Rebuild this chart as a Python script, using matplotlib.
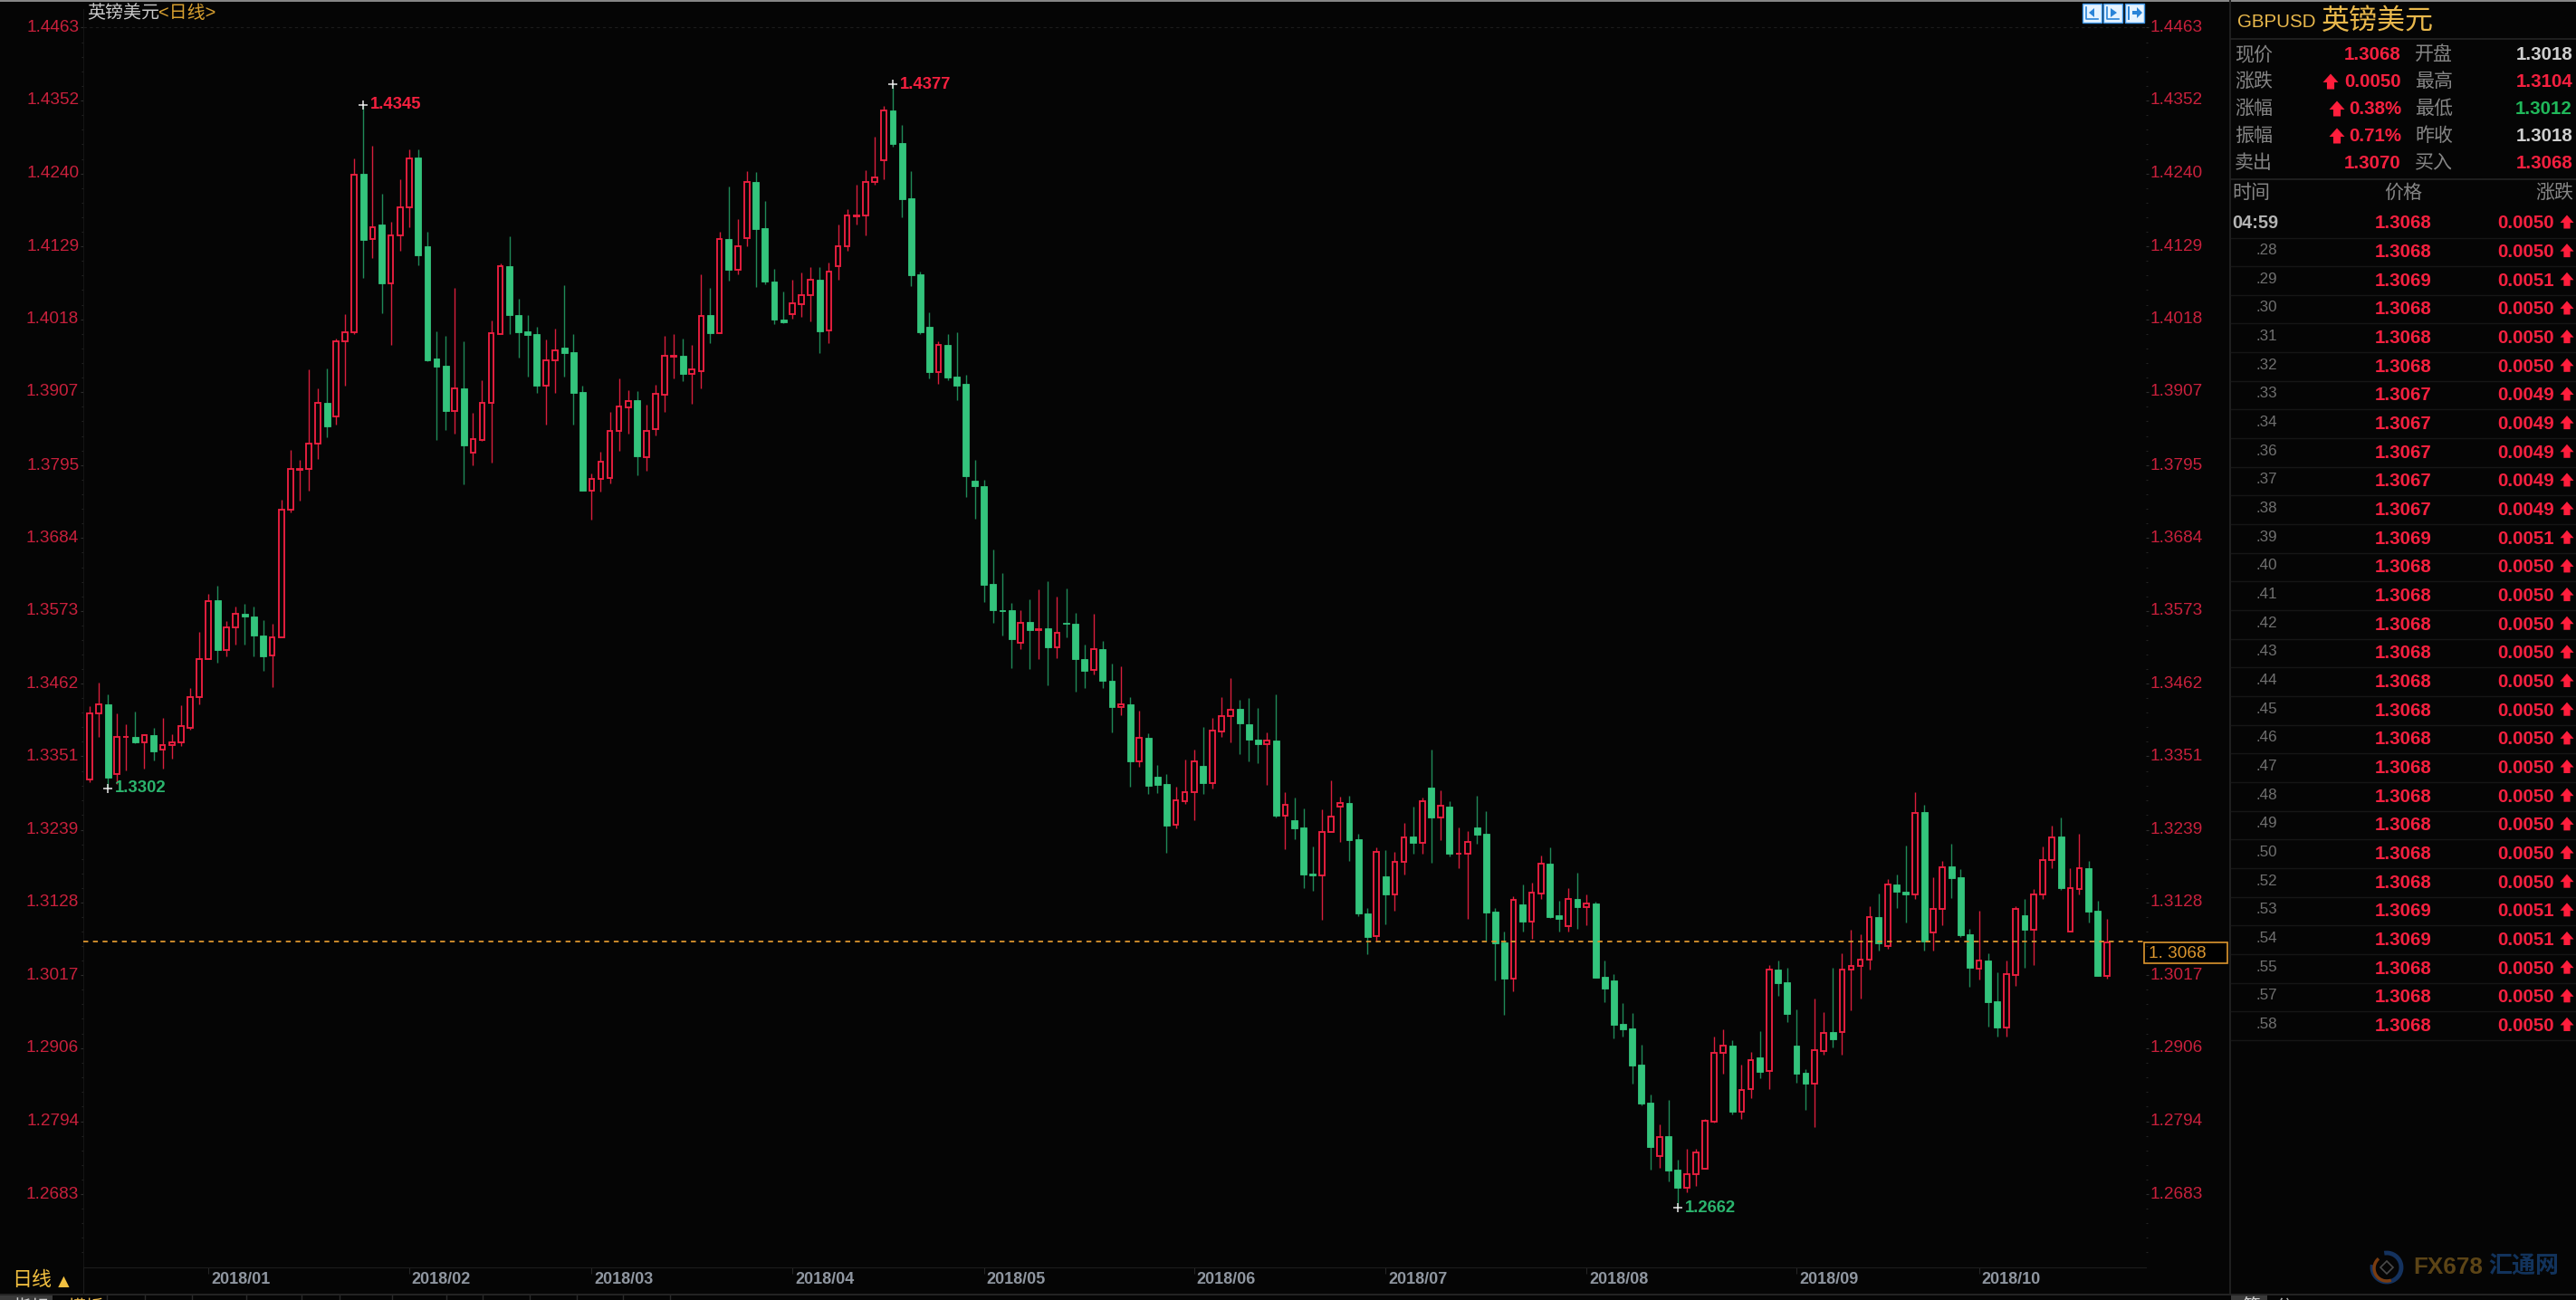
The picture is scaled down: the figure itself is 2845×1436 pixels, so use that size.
import numpy as np
import matplotlib
matplotlib.use('Agg')
import matplotlib.pyplot as plt
from matplotlib.patches import Rectangle, Polygon, Arc
from matplotlib.ticker import FixedLocator

plt.rcParams['font.family'] = ['Liberation Sans', 'Noto Sans CJK SC', 'DejaVu Sans']

# daily GBPUSD candles, in 1/10000 of a price unit
opens = [
    13316, 13417, 13431, 13324, 13380, 13381, 13373, 13383, 13362, 13368,
    13372, 13394, 13441, 13500, 13589, 13513, 13548, 13569, 13565, 13536,
    13505, 13533, 13728, 13788, 13789, 13828, 13891, 13870, 13984, 13998,
    14240, 14140, 14163, 14073, 14146, 14189, 14265, 14130, 13958, 13947,
    13878, 13912, 13814, 13834, 13891, 13996, 14099, 14024, 13999, 13995,
    13917, 13955, 13974, 13968, 13907, 13757, 13775, 13776, 13847, 13884,
    13894, 13808, 13850, 13903, 13961, 13962, 13935, 13939, 14025, 13997,
    14141, 14094, 14142, 14228, 14157, 14076, 14018, 14026, 14041, 14055,
    14078, 14001, 14099, 14129, 14175, 14177, 14227, 14260, 14337, 14287,
    14203, 14087, 14006, 13938, 13979, 13931, 13919, 13772, 13763, 13614,
    13574, 13574, 13524, 13556, 13544, 13546, 13518, 13555, 13554, 13500,
    13483, 13514, 13466, 13426, 13431, 13343, 13379, 13320, 13309, 13246,
    13283, 13296, 13336, 13310, 13389, 13412, 13423, 13400, 13377, 13370,
    13375, 13261, 13253, 13243, 13172, 13170, 13235, 13275, 13280, 13224,
    13112, 13077, 13168, 13141, 13190, 13229, 13219, 13303, 13258, 13274,
    13202, 13203, 13243, 13233, 13114, 13067, 13012, 13125, 13099, 13142,
    13187, 13108, 13092, 13133, 13121, 13127, 13015, 13009, 12943, 12936,
    12881, 12823, 12741, 12771, 12721, 12693, 12714, 12722, 12794, 12898,
    12910, 12809, 12844, 12891, 12871, 13026, 13007, 12909, 12868, 12852,
    12902, 12930, 12931, 13025, 13031, 13041, 13106, 13062, 13156, 13145,
    13141, 13266, 13082, 13118, 13183, 13167, 13080, 13027, 13040, 12978,
    12937, 13018, 13109, 13087, 13141, 13193, 13229, 13084, 13149, 13181,
    13115, 13016,
]
closes = [
    13417, 13431, 13318, 13380, 13381, 13373, 13383, 13359, 13368, 13372,
    13397, 13441, 13500, 13588, 13513, 13548, 13569, 13564, 13535, 13504,
    13533, 13727, 13789, 13789, 13828, 13891, 13854, 13984, 13998, 14239,
    14139, 14158, 14073, 14146, 14189, 14264, 14116, 13956, 13946, 13878,
    13912, 13826, 13835, 13891, 13997, 14099, 14025, 13998, 13994, 13917,
    13955, 13970, 13967, 13906, 13757, 13775, 13800, 13848, 13885, 13893,
    13809, 13848, 13904, 13962, 13962, 13935, 13941, 14023, 13997, 14140,
    14093, 14129, 14228, 14156, 14075, 14017, 14013, 14043, 14055, 14078,
    14000, 14091, 14129, 14176, 14176, 14228, 14235, 14337, 14286, 14201,
    14085, 13998, 13938, 13979, 13929, 13917, 13779, 13763, 13613, 13574,
    13573, 13530, 13555, 13544, 13545, 13517, 13539, 13553, 13499, 13482,
    13514, 13467, 13426, 13431, 13343, 13379, 13306, 13308, 13245, 13284,
    13296, 13344, 13310, 13390, 13413, 13422, 13401, 13376, 13370, 13375,
    13260, 13277, 13241, 13171, 13169, 13236, 13259, 13280, 13223, 13111,
    13076, 13205, 13140, 13190, 13228, 13219, 13282, 13258, 13276, 13202,
    13203, 13220, 13231, 13113, 13066, 13012, 13132, 13099, 13143, 13187,
    13106, 13103, 13133, 13121, 13127, 13013, 12997, 12941, 12935, 12879,
    12821, 12755, 12770, 12719, 12693, 12714, 12747, 12795, 12899, 12909,
    12809, 12842, 12888, 12870, 13025, 13005, 12958, 12867, 12852, 12903,
    12929, 12919, 13025, 13031, 13041, 13106, 13066, 13156, 13144, 13141,
    13264, 13069, 13118, 13182, 13165, 13078, 13028, 13040, 12976, 12937,
    13019, 13118, 13086, 13141, 13193, 13228, 13150, 13150, 13181, 13114,
    13016, 13067,
]
highs = [
    13427, 13464, 13446, 13416, 13400, 13419, 13385, 13394, 13409, 13385,
    13429, 13455, 13541, 13599, 13611, 13557, 13580, 13584, 13580, 13559,
    13553, 13742, 13819, 13804, 13941, 13912, 13943, 13988, 14026, 14263,
    14345, 14283, 14209, 14167, 14231, 14277, 14277, 14151, 14000, 13993,
    14066, 13984, 13875, 13925, 14016, 14103, 14145, 14049, 14024, 14007,
    13987, 14004, 14070, 13995, 13916, 13783, 13816, 13876, 13928, 13910,
    13909, 13888, 13918, 13993, 13996, 13988, 13979, 14086, 14066, 14151,
    14220, 14171, 14244, 14242, 14199, 14095, 14060, 14078, 14089, 14097,
    14097, 14105, 14163, 14186, 14223, 14246, 14296, 14344, 14376, 14314,
    14244, 14091, 14029, 13985, 13996, 13998, 13933, 13803, 13773, 13666,
    13631, 13585, 13574, 13591, 13606, 13618, 13595, 13607, 13570, 13521,
    13568, 13527, 13492, 13489, 13442, 13421, 13386, 13338, 13324, 13305,
    13346, 13361, 13396, 13409, 13442, 13471, 13438, 13440, 13425, 13388,
    13446, 13296, 13288, 13272, 13214, 13270, 13314, 13289, 13291, 13233,
    13120, 13212, 13208, 13205, 13249, 13275, 13288, 13361, 13299, 13282,
    13243, 13237, 13291, 13268, 13119, 13083, 13137, 13156, 13158, 13200,
    13212, 13131, 13150, 13173, 13141, 13129, 13040, 13019, 12974, 12959,
    12911, 12835, 12789, 12827, 12736, 12752, 12752, 12798, 12924, 12934,
    12918, 12881, 12900, 12932, 13032, 13040, 13028, 12965, 12874, 12982,
    12961, 13028, 13051, 13086, 13080, 13123, 13142, 13164, 13171, 13215,
    13297, 13277, 13167, 13191, 13217, 13179, 13088, 13115, 13050, 13022,
    13039, 13123, 13133, 13148, 13214, 13245, 13258, 13181, 13233, 13191,
    13131, 13103,
]
lows = [
    13311, 13381, 13302, 13309, 13330, 13371, 13332, 13345, 13332, 13347,
    13367, 13392, 13430, 13500, 13494, 13504, 13522, 13522, 13504, 13481,
    13457, 13533, 13723, 13741, 13757, 13805, 13838, 13857, 13917, 13996,
    14081, 14112, 14027, 13979, 14123, 14159, 14101, 13954, 13834, 13849,
    13844, 13766, 13795, 13832, 13799, 13995, 13996, 13959, 13931, 13905,
    13857, 13905, 13930, 13857, 13757, 13712, 13755, 13767, 13817, 13844,
    13780, 13787, 13841, 13877, 13928, 13924, 13889, 13913, 13981, 13997,
    14077, 14086, 14129, 14067, 14071, 14011, 14012, 14019, 14022, 14015,
    13967, 13981, 14078, 14123, 14162, 14146, 14223, 14231, 14282, 14174,
    14068, 13996, 13928, 13919, 13925, 13895, 13747, 13713, 13587, 13555,
    13536, 13486, 13515, 13484, 13499, 13460, 13501, 13533, 13450, 13455,
    13476, 13455, 13388, 13414, 13305, 13335, 13293, 13295, 13204, 13241,
    13279, 13254, 13293, 13302, 13380, 13372, 13354, 13343, 13341, 13308,
    13258, 13210, 13225, 13150, 13146, 13101, 13235, 13220, 13192, 13107,
    13049, 13068, 13095, 13115, 13171, 13202, 13202, 13188, 13223, 13198,
    13181, 13103, 13217, 13069, 13009, 12957, 12993, 13083, 13072, 13134,
    13104, 13083, 13083, 13088, 13094, 13013, 12976, 12920, 12924, 12852,
    12819, 12721, 12723, 12702, 12662, 12686, 12695, 12722, 12792, 12867,
    12804, 12798, 12829, 12860, 12844, 12985, 12945, 12853, 12811, 12786,
    12896, 12907, 12896, 12964, 12981, 13026, 13055, 13057, 13119, 13098,
    13134, 13055, 13055, 13094, 13135, 13076, 12999, 13011, 12939, 12924,
    12923, 13001, 13028, 13033, 13134, 13181, 13147, 13083, 13140, 13098,
    13016, 13012,
]

price_ticks = [1.4463, 1.4352, 1.4240, 1.4129, 1.4018, 1.3907, 1.3795, 1.3684, 1.3573,
               1.3462, 1.3351, 1.3239, 1.3128, 1.3017, 1.2906, 1.2794, 1.2683]
month_starts = [13, 35, 55, 77, 98, 121, 142, 164, 187, 207]
month_labels = ['2018/01', '2018/02', '2018/03', '2018/04', '2018/05',
                '2018/06', '2018/07', '2018/08', '2018/09', '2018/10']
last_price = 1.3068

# candle index, printed label, colour name
extreme_marks = [(30, '1.4345', 'up'), (88, '1.4377', 'up'),
                 (2, '1.3302', 'down'), (174, '1.2662', 'down')]

stat_names_a = ['现价', '涨跌', '涨幅', '振幅', '卖出']
stat_values_a = ['1.3068', '0.0050', '0.38%', '0.71%', '1.3070']
stat_names_b = ['开盘', '最高', '最低', '昨收', '买入']
stat_values_b = ['1.3018', '1.3104', '1.3012', '1.3018', '1.3068']
stat_kinds_b = ['flat', 'up', 'down', 'flat', 'up']

tick_times = ['04:59', '.28', '.29', '.30', '.31', '.32', '.33', '.34', '.36', '.37',
              '.38', '.39', '.40', '.41', '.42', '.43', '.44', '.45', '.46', '.47',
              '.48', '.49', '.50', '.52', '.53', '.54', '.55', '.57', '.58']
tick_prices = ['1.3068', '1.3068', '1.3069', '1.3068', '1.3068', '1.3068', '1.3067', '1.3067',
               '1.3067', '1.3067', '1.3067', '1.3069', '1.3068', '1.3068', '1.3068', '1.3068',
               '1.3068', '1.3068', '1.3068', '1.3068', '1.3068', '1.3068', '1.3068', '1.3068',
               '1.3069', '1.3069', '1.3068', '1.3068', '1.3068']
tick_changes = ['0.0050', '0.0050', '0.0051', '0.0050', '0.0050', '0.0050', '0.0049', '0.0049',
                '0.0049', '0.0049', '0.0049', '0.0051', '0.0050', '0.0050', '0.0050', '0.0050',
                '0.0050', '0.0050', '0.0050', '0.0050', '0.0050', '0.0050', '0.0050', '0.0050',
                '0.0051', '0.0051', '0.0050', '0.0050', '0.0050']

BG = '#050505'
RED = '#ec1f40'
RED_DARK = '#d81e3c'
RED_AXIS = '#c9203c'
RED_TEXT = '#f5203f'
GREEN = '#33c47c'
GREEN_DARK = '#1f8a58'
GREEN_TEXT = '#2bb56e'
ORANGE = '#dc962e'
GOLD = '#e9b84c'
W, H = 2845, 1436


def fs(px):
    # font size in points for a height in pixels at dpi 100
    return px * 0.72


fig = plt.figure(figsize=(W / 100, H / 100), dpi=100, facecolor=BG)

# pixel canvas for the window chrome around the chart
ui = fig.add_axes([0, 0, 1, 1])
ui.set_xlim(0, W)
ui.set_ylim(H, 0)
ui.axis('off')

# chart: axes span x 92..2370 and y 10..1400 of the window
ax = fig.add_axes([92 / W, 1 - 1400 / H, (2370 - 92) / W, 1390 / H])
ax.set_facecolor('none')
ax.set_xlim(-7 / 10.08, 2271 / 10.08)
ax.set_ylim(1.25712, 1.44913)

o = np.array(opens) / 10000
c = np.array(closes) / 10000
h = np.array(highs) / 10000
l = np.array(lows) / 10000
x = np.arange(len(o))
up = c >= o
top = np.maximum(o, c)
bottom = np.minimum(o, c)

ax.vlines(x[up], top[up], h[up], color=RED_DARK, lw=1.0, zorder=2)
ax.vlines(x[up], l[up], bottom[up], color=RED_DARK, lw=1.0, zorder=2)
ax.vlines(x[~up], l[~up], h[~up], color=GREEN_DARK, lw=1.0, zorder=2)
ax.bar(x[up], (top - bottom)[up], bottom=bottom[up], width=0.56, facecolor=BG,
       edgecolor=RED, linewidth=1.35, zorder=3)
ax.bar(x[~up], (top - bottom)[~up], bottom=bottom[~up], width=0.68, facecolor=GREEN,
       edgecolor=GREEN, linewidth=0.6, zorder=3)

ax.axhline(last_price, color=ORANGE, lw=1.3, dashes=(3.0, 2.9), zorder=4)
ax.axhline(price_ticks[0], color='#1c1c1c', lw=0.8, dashes=(3, 3), zorder=1)

for i, label, kind in extreme_marks:
    value = h[i] if kind == 'up' else l[i]
    ax.plot(i, value, marker='+', ms=7, mew=1.1, color='#e8e8e8', zorder=6)
    ax.annotate(label, (i, value), xytext=(5.5, 0), textcoords='offset points', va='center',
                ha='left', color=RED_TEXT if kind == 'up' else GREEN_TEXT,
                fontsize=fs(18.5), fontweight='bold', zorder=6)

# price axis on both sides, with four minor ticks between the labels
minor = []
for a, b in zip(price_ticks[:-1], price_ticks[1:]):
    minor += [a + (b - a) * k / 5 for k in range(1, 5)]
step = (price_ticks[-2] - price_ticks[-1]) / 5
minor += [price_ticks[-1] - step * k for k in range(1, 5)]

ax.set_yticks(price_ticks)
ax.set_yticklabels(['%.4f' % p for p in price_ticks])
ax.yaxis.set_minor_locator(FixedLocator(minor))
ax.tick_params(axis='y', which='major', left=True, right=True, labelleft=True, labelright=True,
               length=2.5, width=0.8, color='#2e2e2e', labelcolor=RED_AXIS,
               labelsize=fs(19), pad=1.0)
ax.tick_params(axis='y', which='minor', left=True, right=True, length=1.5, width=0.8, color='#242424')
for t in ax.yaxis.get_major_ticks():
    t.label1.set_va('center')
    t.label2.set_va('center')

ax.set_xticks(month_starts)
ax.set_xticklabels(month_labels, ha='left', fontweight='bold')
ax.tick_params(axis='x', length=5, width=0.8, color='#262626', labelcolor='#8f96a0',
               labelsize=fs(18), pad=-1.5)
for lab in ax.get_xticklabels():
    lab.set_transform(lab.get_transform() + matplotlib.transforms.ScaledTranslation(3 / 100, 0, fig.dpi_scale_trans))

for side in ['top', 'right']:
    ax.spines[side].set_visible(False)
ax.spines['left'].set_color('#151515')
ax.spines['bottom'].set_color('#1c1c1c')
ax.spines['left'].set_linewidth(0.8)
ax.spines['bottom'].set_linewidth(0.8)

# chart title and last price box
ui.text(96, 15, '英镑美元', color='#c8c8c8', fontsize=fs(20), va='center', ha='left')
ui.text(175, 15, '<日线>', color='#d8a030', fontsize=fs(20), va='center', ha='left')
ui.add_patch(Rectangle((2368, 1041), 92, 23, facecolor='#000000', edgecolor=ORANGE, lw=1.2, zorder=5))
ui.text(2373, 1053, '1. 3068', color=ORANGE, fontsize=fs(19), va='center', ha='left', zorder=6)

# window frame
ui.plot([0, W], [1, 1], color='#a0a0a0', lw=1.2)
ui.plot([2463, 2463], [0, 1430], color='#202020', lw=1.4)
ui.plot([0, W], [1430, 1430], color='#242424', lw=1.4)
ui.plot([92, 92], [1400, 1430], color='#1c1c1c', lw=0.8)

# toolbar buttons above the price axis
for bx in [2300, 2323, 2347]:
    ui.add_patch(Rectangle((bx, 4), 21, 21, facecolor='#e6f3ff', edgecolor='#3a94e6', lw=1.0))
ui.plot([2304, 2304, 2317], [8, 21, 21], color='#2a84d8', lw=1.2)
ui.add_patch(Polygon([[2313, 9], [2307, 14], [2313, 19]], facecolor='#2a84d8'))
ui.plot([2327, 2327, 2340], [8, 21, 21], color='#2a84d8', lw=1.2)
ui.add_patch(Polygon([[2331, 9], [2338, 14], [2331, 19]], facecolor='#2a84d8'))
ui.plot([2351, 2351], [8, 21], color='#2a84d8', lw=1.4)
ui.add_patch(Polygon([[2355, 12], [2360, 12], [2360, 8], [2366, 14], [2360, 20], [2360, 16], [2355, 16]],
                     facecolor='#2a84d8'))

# period switch, bottom left
ui.text(13, 1415, '日线', color='#f2c040', fontsize=fs(22), va='center', ha='left')
ui.text(60, 1416, '▲', color='#f2c040', fontsize=fs(21), va='center', ha='left')

# bottom tab strip, cut off by the window edge
ui.add_patch(Rectangle((0, 1431), 58, 6, facecolor='#3a3a3a', edgecolor='none'))
ui.text(14, 1444, '指标', color='#d0d0d0', fontsize=fs(20), va='center', ha='left', clip_on=True)
ui.text(74, 1444, '模板', color='#e9b84c', fontsize=fs(20), va='center', ha='left', clip_on=True)
for tx in [118, 160, 212, 272, 333, 375, 433, 493, 533, 585, 637, 688, 740]:
    ui.plot([tx, tx], [1431, 1436], color='#2a2a2a', lw=1.0)
ui.add_patch(Rectangle((2464, 1431), 40, 6, facecolor='#3a3a3a', edgecolor='none'))
ui.text(2476, 1444, '笔', color='#d0d0d0', fontsize=fs(20), va='center', ha='left', clip_on=True)
ui.text(2512, 1444, '分', color='#b0b0b0', fontsize=fs(20), va='center', ha='left', clip_on=True)


def arrow(cx, cy, size=17):
    # small block arrow pointing up
    s = size / 2
    ui.add_patch(Polygon([[cx, cy - s], [cx + s, cy + 1], [cx + s * 0.48, cy + 1], [cx + s * 0.48, cy + s],
                          [cx - s * 0.48, cy + s], [cx - s * 0.48, cy + 1], [cx - s, cy + 1]],
                         facecolor='#ff1e3c', edgecolor='none'))


# quote panel header
ui.text(2471, 24, 'GBPUSD', color=GOLD, fontsize=fs(20.5), va='center', ha='left')
ui.text(2564, 24, '英镑美元', color=GOLD, fontsize=fs(31), va='center', ha='left')
ui.plot([2464, W], [43, 43], color='#242424', lw=1.2)

value_colors = {'up': RED_TEXT, 'down': '#20b85a', 'flat': '#cfcfcf'}
for i in range(5):
    y = 60 + 30 * i
    ui.text(2468, y, stat_names_a[i], color='#858585', fontsize=fs(21), va='center', ha='left')
    ui.text(2652, y, stat_values_a[i], color=RED_TEXT, fontsize=fs(20.5), fontweight='bold',
            va='center', ha='right')
    ui.text(2667, y, stat_names_b[i], color='#858585', fontsize=fs(21), va='center', ha='left')
    ui.text(2841, y, stat_values_b[i], color=value_colors[stat_kinds_b[i]], fontsize=fs(20.5),
            fontweight='bold', va='center', ha='right')
arrow(2574, 90)
arrow(2581, 120)
arrow(2581, 150)
ui.plot([2464, W], [198, 198], color='#242424', lw=1.2)

# tick list
ui.text(2465, 213, '时间', color='#858585', fontsize=fs(21), va='center', ha='left')
ui.text(2654, 213, '价格', color='#858585', fontsize=fs(21), va='center', ha='center')
ui.text(2842, 213, '涨跌', color='#858585', fontsize=fs(21), va='center', ha='right')
for i, (t, p, d) in enumerate(zip(tick_times, tick_prices, tick_changes)):
    y = 247 + 31.66 * i
    if i == 0:
        ui.text(2465, y, t, color='#b4b4b4', fontsize=fs(20), fontweight='bold', va='center', ha='left')
    else:
        ui.text(2515, y - 2, t, color='#707070', fontsize=fs(17), va='center', ha='right')
    ui.text(2686, y, p, color=RED_TEXT, fontsize=fs(20.5), fontweight='bold', va='center', ha='right')
    ui.text(2821, y, d, color=RED_TEXT, fontsize=fs(20.5), fontweight='bold', va='center', ha='right')
    arrow(2835, y - 2, 15)
    ui.plot([2464, W], [y + 15.5, y + 15.5], color='#161616', lw=1.0)

# watermark
ui.add_patch(Arc((2636, 1400), 32, 32, angle=0, theta1=-100, theta2=190, color='#14325e', lw=3.5))
ui.add_patch(Arc((2636, 1401), 28, 28, angle=0, theta1=70, theta2=230, color='#7a3c10', lw=2.5))
ui.add_patch(Polygon([[2636, 1393], [2643, 1400], [2636, 1407], [2629, 1400]], facecolor='none',
                     edgecolor='#4a4a4a', lw=1.2))
ui.text(2665, 1400, 'FX678', color='#5c4416', fontsize=fs(26), fontweight='bold', va='center', ha='left')
ui.text(2748, 1400, '汇通网', color='#12335c', fontsize=fs(26), fontweight='bold', va='center', ha='left')

fig.savefig('out.png', dpi=100, facecolor=BG)
